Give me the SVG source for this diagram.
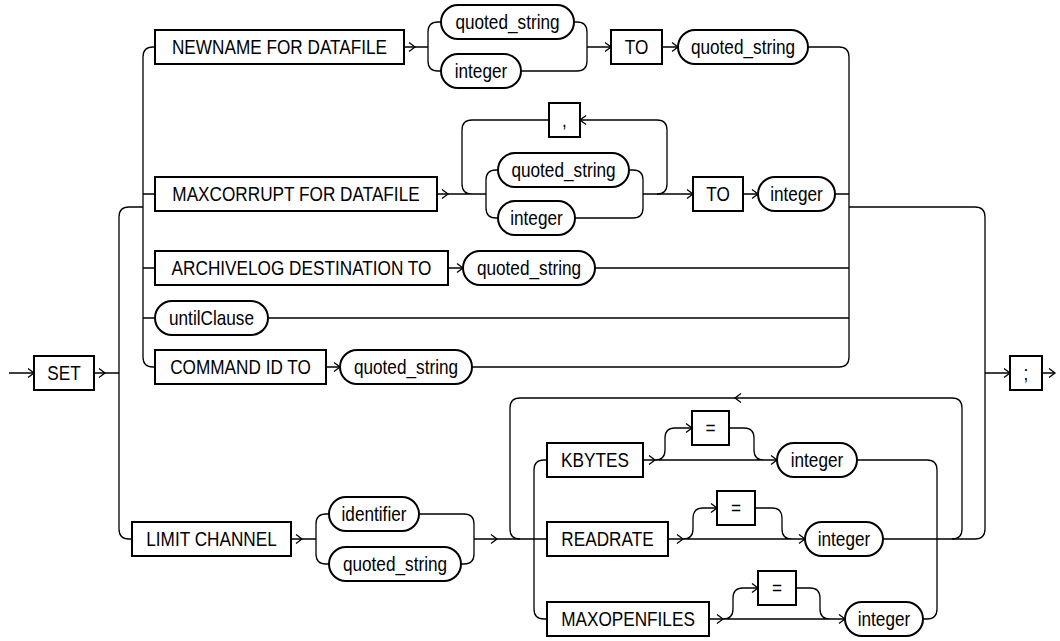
<svg xmlns="http://www.w3.org/2000/svg" xmlns:xlink="http://www.w3.org/1999/xlink" width="1060" height="641" viewBox="0 0 1060 641">
<style>
.b{fill:#fff;stroke:#000;stroke-width:2}
.c{fill:none;stroke:#000;stroke-width:1.3}
.t{font-family:"Liberation Sans",Arial,Helvetica,sans-serif;font-size:20px;text-anchor:middle;fill:#000}
</style>
<defs>
<path id="a" class="c" d="M-6,-4.5 L0,0 L-6,4.5"/>
</defs>
<rect width="1060" height="641" fill="#fff"/>
<g id="connectors">
<path class="c" d="M9,373 H34 M94,373 H119"/>
<path class="c" d="M143,207 H129 Q119,207 119,217 V529 Q119,539 129,539 H132"/>
<path class="c" d="M155,47 H153 Q143,47 143,57 V357 Q143,367 153,367 H155 M143,194 H155 M143,268 H155 M143,318 H155"/>
<path class="c" d="M404,47 H428 M441,22 H438 Q428,22 428,32 V61 Q428,71 438,71 H441 M574,22 H577 Q587,22 587,32 V61 Q587,71 577,71 H521 M587,47 H611 M662,47 H678"/>
<path class="c" d="M808,47 H839 Q849,47 849,57 V357 Q849,367 839,367 H472 M835,194 H849 M595,268 H849 M268,318 H849"/>
<path class="c" d="M849,207 H975 Q985,207 985,217 V529 Q985,539 975,539 H883 M985,373 H1010 M1042,373 H1055"/>
<path class="c" d="M437,194 H486 M472,194 Q462,194 462,184 V130 Q462,120 472,120 H657 Q667,120 667,130 V184 Q667,194 657,194"/>
<path class="c" d="M498,170 H496 Q486,170 486,180 V208 Q486,218 496,218 H498 M629,170 H633 Q643,170 643,180 V208 Q643,218 633,218 H575 M643,194 H693 M743,194 H758"/>
<path class="c" d="M448,268 H463 M326,367 H340"/>
<path class="c" d="M291,539 H316 M329,514 H326 Q316,514 316,524 V554 Q316,564 326,564 H329 M419,514 H464 Q474,514 474,524 V554 Q474,564 464,564 H461 M474,539 H547"/>
<path class="c" d="M520,539 Q510,539 510,529 V408 Q510,398 520,398 H952 Q962,398 962,408 V529 Q962,539 952,539"/>
<path class="c" d="M547,460 H544 Q534,460 534,470 V609 Q534,619 544,619 H547 M857,460 H927 Q937,460 937,470 V609 Q937,619 927,619 H923"/>
<path class="c" d="M643,460 H777 M655,460 Q665,460 665,450 V438 Q665,428 675,428 H692 M729,428 H744 Q754,428 754,438 V450 Q754,460 764,460"/>
<path class="c" d="M668,539 H805 M683,539 Q693,539 693,529 V518 Q693,508 703,508 H717 M755,508 H772 Q782,508 782,518 V529 Q782,539 792,539"/>
<path class="c" d="M709,619 H845 M723,619 Q733,619 733,609 V598 Q733,588 743,588 H758 M796,588 H810 Q820,588 820,598 V609 Q820,619 830,619"/>
<use xlink:href="#a" x="34" y="373"/>
<use xlink:href="#a" x="105" y="373"/>
<use xlink:href="#a" x="415" y="47"/>
<use xlink:href="#a" x="611" y="47"/>
<use xlink:href="#a" x="678" y="47"/>
<use xlink:href="#a" x="448" y="194"/>
<use xlink:href="#a" transform="translate(580 120) scale(-1 1)"/>
<use xlink:href="#a" x="693" y="194"/>
<use xlink:href="#a" x="758" y="194"/>
<use xlink:href="#a" x="463" y="268"/>
<use xlink:href="#a" x="340" y="367"/>
<use xlink:href="#a" x="1010" y="373"/>
<use xlink:href="#a" x="1055" y="373"/>
<use xlink:href="#a" x="302" y="539"/>
<use xlink:href="#a" x="497" y="539"/>
<use xlink:href="#a" transform="translate(735 398) scale(-1 1)"/>
<use xlink:href="#a" x="655" y="460"/>
<use xlink:href="#a" x="692" y="428"/>
<use xlink:href="#a" x="777" y="460"/>
<use xlink:href="#a" x="683" y="539"/>
<use xlink:href="#a" x="717" y="508"/>
<use xlink:href="#a" x="805" y="539"/>
<use xlink:href="#a" x="723" y="619"/>
<use xlink:href="#a" x="758" y="588"/>
<use xlink:href="#a" x="845" y="619"/>
</g>
<g id="set"><rect class="b" x="34" y="356" width="60" height="34"/><text class="t" transform="translate(64 380) scale(.86 1)">SET</text></g>
<g id="newname"><rect class="b" x="155" y="30" width="249" height="34"/><text class="t" transform="translate(279.5 54) scale(.86 1)">NEWNAME FOR DATAFILE</text></g>
<g id="nn-qs"><rect class="b" x="441" y="5" width="133" height="34" rx="17"/><text class="t" transform="translate(507.5 29) scale(.86 1)">quoted_string</text></g>
<g id="nn-int"><rect class="b" x="441" y="54" width="80" height="34" rx="17"/><text class="t" transform="translate(481 78) scale(.86 1)">integer</text></g>
<g id="nn-to"><rect class="b" x="611" y="30" width="51" height="34"/><text class="t" transform="translate(636.5 54) scale(.86 1)">TO</text></g>
<g id="nn-qs2"><rect class="b" x="678" y="30" width="130" height="34" rx="17"/><text class="t" transform="translate(743 54) scale(.86 1)">quoted_string</text></g>
<g id="maxcorrupt"><rect class="b" x="155" y="177" width="282" height="34"/><text class="t" transform="translate(296 201) scale(.86 1)">MAXCORRUPT FOR DATAFILE</text></g>
<g id="mc-comma"><rect class="b" x="549" y="103" width="31" height="34"/><text class="t" transform="translate(564.5 127) scale(.86 1)">,</text></g>
<g id="mc-qs"><rect class="b" x="498" y="153" width="131" height="34" rx="17"/><text class="t" transform="translate(563.5 177) scale(.86 1)">quoted_string</text></g>
<g id="mc-int"><rect class="b" x="498" y="201" width="77" height="34" rx="17"/><text class="t" transform="translate(536.5 225) scale(.86 1)">integer</text></g>
<g id="mc-to"><rect class="b" x="693" y="177" width="50" height="34"/><text class="t" transform="translate(718 201) scale(.86 1)">TO</text></g>
<g id="mc-int2"><rect class="b" x="758" y="177" width="77" height="34" rx="17"/><text class="t" transform="translate(796.5 201) scale(.86 1)">integer</text></g>
<g id="archivelog"><rect class="b" x="155" y="251" width="293" height="34"/><text class="t" transform="translate(301.5 275) scale(.86 1)">ARCHIVELOG DESTINATION TO</text></g>
<g id="al-qs"><rect class="b" x="463" y="251" width="132" height="34" rx="17"/><text class="t" transform="translate(529 275) scale(.86 1)">quoted_string</text></g>
<g id="untilclause"><rect class="b" x="155" y="301" width="113" height="34" rx="17"/><text class="t" transform="translate(211.5 325) scale(.86 1)">untilClause</text></g>
<g id="commandid"><rect class="b" x="155" y="350" width="171" height="34"/><text class="t" transform="translate(240.5 374) scale(.86 1)">COMMAND ID TO</text></g>
<g id="ci-qs"><rect class="b" x="340" y="350" width="132" height="34" rx="17"/><text class="t" transform="translate(406 374) scale(.86 1)">quoted_string</text></g>
<g id="semicolon"><rect class="b" x="1010" y="356" width="32" height="34"/><text class="t" transform="translate(1026 380) scale(.86 1)">;</text></g>
<g id="limitchannel"><rect class="b" x="132" y="522" width="159" height="34"/><text class="t" transform="translate(211.5 546) scale(.86 1)">LIMIT CHANNEL</text></g>
<g id="lc-id"><rect class="b" x="329" y="497" width="90" height="34" rx="17"/><text class="t" transform="translate(374 521) scale(.86 1)">identifier</text></g>
<g id="lc-qs"><rect class="b" x="329" y="547" width="132" height="34" rx="17"/><text class="t" transform="translate(395 571) scale(.86 1)">quoted_string</text></g>
<g id="kbytes"><rect class="b" x="547" y="443" width="96" height="34"/><text class="t" transform="translate(595 467) scale(.86 1)">KBYTES</text></g>
<g id="kb-eq"><rect class="b" x="692" y="411" width="37" height="34"/><text class="t" transform="translate(710.5 435) scale(.86 1)">=</text></g>
<g id="kb-int"><rect class="b" x="777" y="443" width="80" height="34" rx="17"/><text class="t" transform="translate(817 467) scale(.86 1)">integer</text></g>
<g id="readrate"><rect class="b" x="547" y="522" width="121" height="34"/><text class="t" transform="translate(607.5 546) scale(.86 1)">READRATE</text></g>
<g id="rr-eq"><rect class="b" x="717" y="491" width="38" height="34"/><text class="t" transform="translate(736 515) scale(.86 1)">=</text></g>
<g id="rr-int"><rect class="b" x="805" y="522" width="78" height="34" rx="17"/><text class="t" transform="translate(844 546) scale(.86 1)">integer</text></g>
<g id="maxopenfiles"><rect class="b" x="547" y="602" width="162" height="34"/><text class="t" transform="translate(628 626) scale(.86 1)">MAXOPENFILES</text></g>
<g id="mo-eq"><rect class="b" x="758" y="571" width="38" height="34"/><text class="t" transform="translate(777 595) scale(.86 1)">=</text></g>
<g id="mo-int"><rect class="b" x="845" y="602" width="78" height="34" rx="17"/><text class="t" transform="translate(884 626) scale(.86 1)">integer</text></g>
</svg>
